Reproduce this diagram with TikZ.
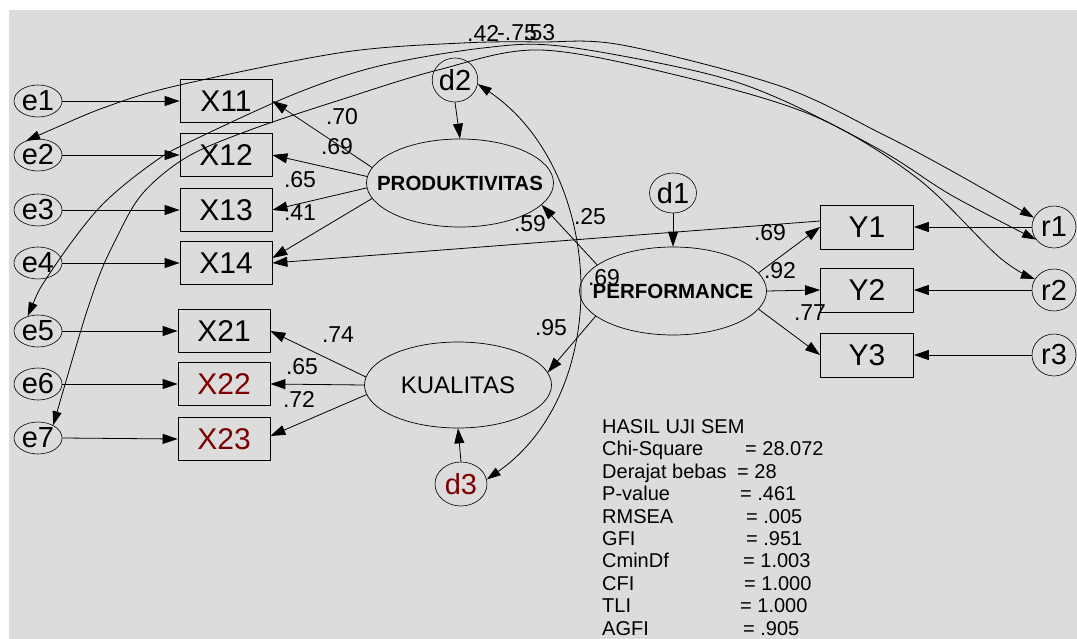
\documentclass[tikz,border=0pt]{standalone}
\usepackage{fontspec}
\setmainfont{Liberation Sans}
\usetikzlibrary{arrows.meta,shapes.geometric}
\definecolor{bgc}{RGB}{220,220,220}
\definecolor{dred}{RGB}{125,0,0}
\begin{document}
\begin{tikzpicture}[x=1pt,y=-1pt,
  obs/.style={draw, line width=0.8pt, minimum width=92pt, minimum height=43pt, inner sep=0pt, font=\fontsize{30}{32}\selectfont},
  err/.style={draw, ellipse, line width=0.6pt, minimum width=48pt, minimum height=32pt, inner sep=0pt, font=\fontsize{29}{31}\selectfont},
  dist/.style={draw, ellipse, line width=0.6pt, inner sep=0pt, font=\fontsize{29}{31}\selectfont},
  lat/.style={draw, ellipse, line width=0.7pt, minimum width=187pt, minimum height=88pt, inner sep=0pt},
  lattxt/.style={font=\bfseries\fontsize{20.5}{22}\selectfont, inner sep=0pt},
  coef/.style={font=\fontsize{23}{25}\selectfont, inner sep=0pt},
  stat/.style={font=\fontsize{20}{22}\selectfont, inner sep=0pt, anchor=base west},
  arr/.style={line width=0.8pt, -{Triangle[length=15pt,width=10pt]}},
  cov/.style={line width=0.8pt, {Triangle[length=14pt,width=9pt]}-{Triangle[length=14pt,width=9pt]}}
]
\useasboundingbox (0,0) rectangle (1077,639);
\fill[white] (0,0) rectangle (1077,639);
\fill[bgc] (9,10) rectangle (1077,639);

% error terms
\node[err] (e1) at (38,101) {e1};
\node[err] (e2) at (38,155) {e2};
\node[err] (e3) at (38,210) {e3};
\node[err] (e4) at (38,263) {e4};
\node[err] (e5) at (38,331) {e5};
\node[err] (e6) at (38,384) {e6};
\node[err] (e7) at (38,438) {e7};

% indicators
\node[obs] (X11) at (226,101) {X11};
\node[obs] (X12) at (226,155) {X12};
\node[obs] (X13) at (226,210) {X13};
\node[obs] (X14) at (226,263) {X14};
\node[obs] (X21) at (224,331) {X21};
\node[obs, text=dred] (X22) at (224,384) {X22};
\node[obs, text=dred] (X23) at (224,439) {X23};
\node[obs, minimum width=93pt, minimum height=44pt] (Y1) at (867,227) {Y1};
\node[obs, minimum width=93pt, minimum height=44pt] (Y2) at (867,290) {Y2};
\node[obs, minimum width=93pt, minimum height=44pt] (Y3) at (867,355) {Y3};

% residuals
\node[dist, minimum width=44pt, minimum height=42pt] (r1) at (1054,227) {r1};
\node[dist, minimum width=44pt, minimum height=42pt] (r2) at (1054,290) {r2};
\node[dist, minimum width=44pt, minimum height=42pt] (r3) at (1054,355) {r3};
\node[dist, minimum width=47pt, minimum height=40pt] (d1) at (673,193) {d1};
\node[dist, minimum width=44pt, minimum height=44pt] (d2) at (455,80) {d2};
\node[dist, minimum width=52pt, minimum height=44pt, text=dred] (d3) at (461,484) {d3};

% latent variables
\node[lat] (PROD) at (460,183) {};
\node[lattxt] (PRODt) at (PROD.center) {PRODUKTIVITAS};
\node[lat] (PERF) at (673,291) {};
\node[lattxt] (PERFt) at (PERF.center) {PERFORMANCE};
\node[lat, minimum height=86pt] (KUAL) at (458,385) {};
\node[inner sep=0pt, font=\fontsize{24}{26}\selectfont] (KUALt) at (KUAL.center) {KUALITAS};

% error arrows
\foreach \e/\x in {e1/X11,e2/X12,e3/X13,e4/X14,e5/X21,e6/X22,e7/X23}
  \draw[arr] (\e.east) -- (\x.west);
\foreach \r/\y in {r1/Y1,r2/Y2,r3/Y3}
  \draw[arr] (\r.west) -- (\y.east);

% disturbance arrows
\draw[arr] (d2.south) -- (PROD.north);
\draw[arr] (d1.south) -- (PERF.north);
\draw[arr] (d3.north) -- (KUAL.south);

% loadings
\draw[arr] (PROD.170) -- (X11.east);
\draw[arr] (PROD.176) -- (X12.east);
\draw[arr] (PROD.183) -- (X13.east);
\draw[arr] (PROD.190) -- ([yshift=5pt]X14.east);
\draw[arr] ([yshift=6pt]Y1.west) -- (X14.east);
\draw[arr] (KUAL.175) -- (X21.east);
\draw[arr] (KUAL.180) -- (X22.east);
\draw[arr] (KUAL.186) -- ([yshift=3pt]X23.east);
\draw[arr] (PERF.161) -- (PROD.-15);
\draw[arr] (PERF.198) -- (KUAL.8);
\draw[arr] (PERF.12) -- (Y1.west);
\draw[arr] (PERF.east) -- (Y2.west);
\draw[arr] (PERF.-12) -- (Y3.west);

% covariances
\draw[cov] (d2.-10) .. controls (605,170) and (615,390) .. (d3.10);
\draw[cov] plot[smooth, tension=0.55] coordinates {(e2.130) (117,103) (193,82) (345,52) (462,43) (540,42) (622,45) (780,86) (882,134) (950,170) (r1.155)};
\draw[cov] plot[smooth, tension=0.55] coordinates {(e5.125) (50,273) (100,207) (157,160) (200,137) (297,93) (379,66) (483,48) (560,46) (700,72) (780,99) (882,151) (951,195) (r1.215)};
\draw[cov] plot[smooth, tension=0.55] coordinates {(e7.40) (93,293) (117,237) (143,193) (187,157) (250,130) (340,100) (438,70) (540,50) (680,76) (814,116) (917,178) (999,257) (r2.150)};

% coefficients
\node[coef] (c1) at (342,117) {.70};
\node[coef] (c2) at (337,147) {.69};
\node[coef] (c3) at (300,180) {.65};
\node[coef] (c4) at (300,213) {.41};
\node[coef] (c5) at (530,224) {.59};
\node[coef] (c6) at (590,217) {.25};
\node[coef] (c7) at (604,278) {.69};
\node[coef] (c8) at (551,328) {.95};
\node[coef] (c9) at (770,233) {.69};
\node[coef] (c10) at (780,271) {.92};
\node[coef] (c11) at (810,313) {.77};
\node[coef] (c12) at (338,335) {.74};
\node[coef] (c13) at (302,367) {.65};
\node[coef] (c14) at (299,399) {.72};
\node[coef, anchor=west] (c15) at (467,33) {.42};
\node[coef, anchor=west] (c16) at (497,33) {-.75};
\node[coef, anchor=west] (c17) at (523,33) {.53};

% fit statistics
\node[stat] (s1) at (602,433.5) {HASIL UJI SEM};
\node[stat] (s2) at (602,455.9) {Chi-Square};
\node[stat] (v2) at (745,455.9) {= 28.072};
\node[stat] (s3) at (602,478.3) {Derajat bebas};
\node[stat] (v3) at (737,478.3) {= 28};
\node[stat] (s4) at (602,500.7) {P-value};
\node[stat] (v4) at (740,500.7) {= .461};
\node[stat] (s5) at (602,523.1) {RMSEA};
\node[stat] (v5) at (746,523.1) {= .005};
\node[stat] (s6) at (602,545.5) {GFI};
\node[stat] (v6) at (746,545.5) {= .951};
\node[stat] (s7) at (602,567.9) {CminDf};
\node[stat] (v7) at (743,567.9) {= 1.003};
\node[stat] (s8) at (602,590.3) {CFI};
\node[stat] (v8) at (744,590.3) {= 1.000};
\node[stat] (s9) at (602,612.7) {TLI};
\node[stat] (v9) at (740,612.7) {= 1.000};
\node[stat] (s10) at (602,635.5) {AGFI};
\node[stat] (v10) at (743,635.5) {= .905};
\end{tikzpicture}
\end{document}
